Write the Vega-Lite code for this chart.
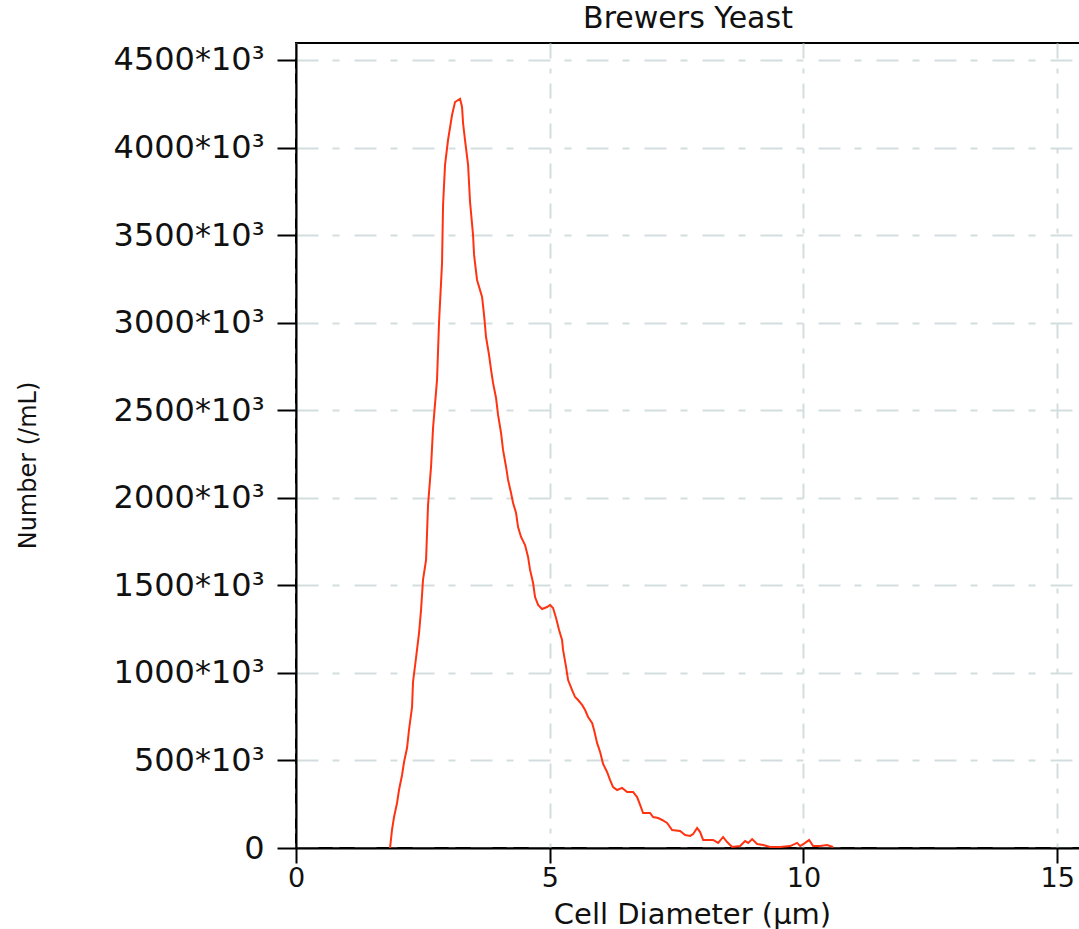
{
  "$schema": "https://vega.github.io/schema/vega-lite/v6.json",
  "autosize": {"type": "none"},
  "padding": {"left": 296, "top": 43, "right": 0, "bottom": 81},
  "width": 784,
  "height": 805,
  "background": "white",
  "title": {
    "text": "Brewers Yeast",
    "font": "DejaVu Sans",
    "fontSize": 30,
    "fontWeight": "normal",
    "color": "#111111",
    "offset": 9,
    "anchor": "middle"
  },
  "config": {
    "view": {"stroke": "#000000", "strokeWidth": 2},
    "axis": {
      "labelFont": "DejaVu Sans",
      "titleFont": "DejaVu Sans",
      "labelColor": "#111111",
      "titleColor": "#111111",
      "titleFontWeight": "normal",
      "domainColor": "#000000",
      "domainWidth": 2,
      "tickColor": "#000000",
      "tickWidth": 2,
      "gridColor": "#d3dde0",
      "gridWidth": 2
    }
  },
  "data": {
    "values": [
      {"d": 1.853, "n": 0},
      {"d": 1.892, "n": 103},
      {"d": 1.932, "n": 177},
      {"d": 1.991, "n": 257},
      {"d": 2.030, "n": 331},
      {"d": 2.090, "n": 417},
      {"d": 2.129, "n": 491},
      {"d": 2.188, "n": 571},
      {"d": 2.227, "n": 674},
      {"d": 2.287, "n": 805},
      {"d": 2.306, "n": 948},
      {"d": 2.365, "n": 1085},
      {"d": 2.425, "n": 1228},
      {"d": 2.464, "n": 1359},
      {"d": 2.503, "n": 1531},
      {"d": 2.563, "n": 1645},
      {"d": 2.602, "n": 1959},
      {"d": 2.661, "n": 2176},
      {"d": 2.701, "n": 2399},
      {"d": 2.779, "n": 2673},
      {"d": 2.819, "n": 3004},
      {"d": 2.878, "n": 3341},
      {"d": 2.898, "n": 3672},
      {"d": 2.937, "n": 3901},
      {"d": 2.996, "n": 4043},
      {"d": 3.075, "n": 4186},
      {"d": 3.134, "n": 4260},
      {"d": 3.233, "n": 4278},
      {"d": 3.272, "n": 4232},
      {"d": 3.292, "n": 4140},
      {"d": 3.331, "n": 4043},
      {"d": 3.391, "n": 3901},
      {"d": 3.430, "n": 3689},
      {"d": 3.489, "n": 3501},
      {"d": 3.509, "n": 3387},
      {"d": 3.568, "n": 3244},
      {"d": 3.667, "n": 3147},
      {"d": 3.706, "n": 3044},
      {"d": 3.745, "n": 2918},
      {"d": 3.804, "n": 2816},
      {"d": 3.844, "n": 2730},
      {"d": 3.883, "n": 2656},
      {"d": 3.942, "n": 2570},
      {"d": 3.982, "n": 2473},
      {"d": 4.041, "n": 2370},
      {"d": 4.080, "n": 2273},
      {"d": 4.140, "n": 2176},
      {"d": 4.179, "n": 2102},
      {"d": 4.238, "n": 2027},
      {"d": 4.278, "n": 1970},
      {"d": 4.337, "n": 1913},
      {"d": 4.376, "n": 1833},
      {"d": 4.435, "n": 1776},
      {"d": 4.514, "n": 1730},
      {"d": 4.573, "n": 1662},
      {"d": 4.613, "n": 1588},
      {"d": 4.672, "n": 1513},
      {"d": 4.711, "n": 1433},
      {"d": 4.771, "n": 1388},
      {"d": 4.849, "n": 1365},
      {"d": 4.948, "n": 1376},
      {"d": 5.007, "n": 1388},
      {"d": 5.066, "n": 1371},
      {"d": 5.125, "n": 1314},
      {"d": 5.184, "n": 1245},
      {"d": 5.243, "n": 1188},
      {"d": 5.263, "n": 1131},
      {"d": 5.322, "n": 1034},
      {"d": 5.362, "n": 959},
      {"d": 5.441, "n": 902},
      {"d": 5.500, "n": 862},
      {"d": 5.559, "n": 845},
      {"d": 5.638, "n": 817},
      {"d": 5.697, "n": 788},
      {"d": 5.756, "n": 748},
      {"d": 5.835, "n": 714},
      {"d": 5.874, "n": 674},
      {"d": 5.933, "n": 600},
      {"d": 5.993, "n": 548},
      {"d": 6.052, "n": 480},
      {"d": 6.130, "n": 434},
      {"d": 6.190, "n": 388},
      {"d": 6.249, "n": 348},
      {"d": 6.328, "n": 331},
      {"d": 6.426, "n": 343},
      {"d": 6.525, "n": 320},
      {"d": 6.643, "n": 320},
      {"d": 6.722, "n": 291},
      {"d": 6.781, "n": 246},
      {"d": 6.840, "n": 200},
      {"d": 6.978, "n": 200},
      {"d": 7.037, "n": 177},
      {"d": 7.136, "n": 171},
      {"d": 7.215, "n": 160},
      {"d": 7.313, "n": 143},
      {"d": 7.412, "n": 103},
      {"d": 7.569, "n": 97},
      {"d": 7.668, "n": 74},
      {"d": 7.767, "n": 69},
      {"d": 7.826, "n": 80},
      {"d": 7.905, "n": 114},
      {"d": 7.964, "n": 91},
      {"d": 8.023, "n": 46},
      {"d": 8.220, "n": 46},
      {"d": 8.319, "n": 29},
      {"d": 8.417, "n": 63},
      {"d": 8.496, "n": 34},
      {"d": 8.595, "n": 6},
      {"d": 8.752, "n": 11},
      {"d": 8.851, "n": 40},
      {"d": 8.910, "n": 29},
      {"d": 8.989, "n": 51},
      {"d": 9.087, "n": 23},
      {"d": 9.206, "n": 17},
      {"d": 9.344, "n": 6},
      {"d": 9.541, "n": 6},
      {"d": 9.738, "n": 11},
      {"d": 9.876, "n": 29},
      {"d": 9.935, "n": 11},
      {"d": 10.034, "n": 29},
      {"d": 10.112, "n": 46},
      {"d": 10.191, "n": 11},
      {"d": 10.329, "n": 11},
      {"d": 10.467, "n": 17},
      {"d": 10.585, "n": 6}
    ]
  },
  "mark": {"type": "line", "color": "#ff3311", "strokeWidth": 2, "clip": true},
  "encoding": {
    "x": {
      "field": "d",
      "type": "quantitative",
      "scale": {"domain": [0, 15.45], "nice": false, "zero": false},
      "axis": {
        "title": "Cell Diameter (µm)",
        "values": [0, 5, 10, 15],
        "format": "d",
        "labelFontSize": 27,
        "titleFontSize": 29,
        "tickSize": 15,
        "labelPadding": 2,
        "titleX": 396,
        "titleY": 75,
        "titleBaseline": "alphabetic",
        "labelFlush": false,
        "gridDash": [15, 10, 5, 10]
      }
    },
    "y": {
      "field": "n",
      "type": "quantitative",
      "scale": {"domain": [0, 4597], "nice": false},
      "axis": {
        "title": "Number (/mL)",
        "values": [0, 500, 1000, 1500, 2000, 2500, 3000, 3500, 4000, 4500],
        "labelExpr": "datum.value == 0 ? '0' : datum.value + '*10³'",
        "labelFontSize": 32,
        "titleFontSize": 24,
        "tickSize": 19,
        "labelPadding": 13,
        "labelFlush": false,
        "titleAngle": -90,
        "titleX": -268,
        "titleY": 422,
        "titleAlign": "center",
        "titleBaseline": "middle",
        "gridDash": [22, 14, 7, 15]
      }
    }
  }
}
